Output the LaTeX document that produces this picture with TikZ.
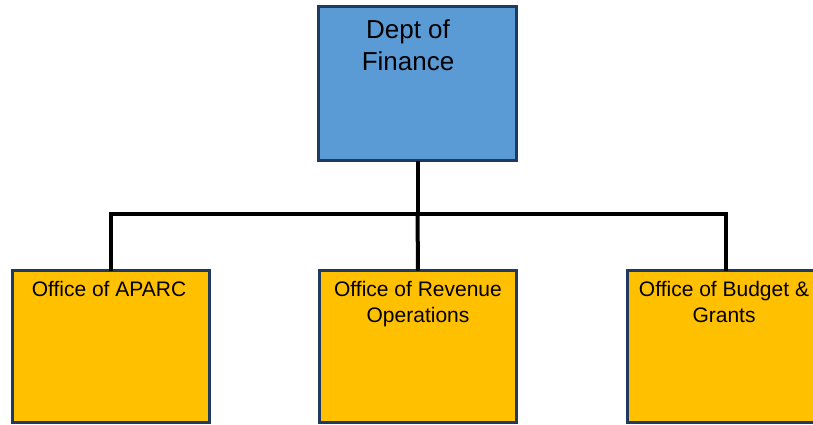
\documentclass[tikz,border=0pt]{standalone}
\usepackage{fontspec}
\setmainfont{Liberation Sans}
\usetikzlibrary{positioning}
\definecolor{deptblue}{HTML}{5B9BD5}
\definecolor{officegold}{HTML}{FFC000}
\definecolor{edgenavy}{HTML}{1F3A5C}

\begin{document}
\begin{tikzpicture}[
    x=1pt, y=-1pt,
    unit/.style={draw=edgenavy, line width=3pt, fill=#1, minimum width=198pt, minimum height=154pt, inner sep=0pt, outer sep=0pt},
    title/.style={anchor=north, align=center, inner sep=0pt, font=\fontsize{26}{32}\selectfont},
    subtitle/.style={anchor=north, align=center, inner sep=0pt, font=\fontsize{21}{26.5}\selectfont},
    link/.style={line width=4pt, black},
]
\useasboundingbox (0, 0) rectangle (813, 425);

% department
\node[unit=deptblue, label={[title, xshift=-9.5pt, yshift=-13pt]north:{Dept of\\Finance}}] (finance) at (417.5, 83.5) {};

% offices
\node[unit=officegold, minimum width=197pt, minimum height=152pt, label={[subtitle, xshift=-2pt, yshift=-10.5pt]north:{Office of APARC}}] (aparc) at (111, 346.5) {};
\node[unit=officegold, minimum width=197pt, minimum height=152pt, label={[subtitle, yshift=-10.5pt]north:{Office of Revenue\\Operations}}] (revenue) at (418, 346.5) {};
\node[unit=officegold, minimum width=197pt, minimum height=152pt, label={[subtitle, xshift=-1.5pt, yshift=-10.5pt]north:{Office of Budget \&\\Grants}}] (grants) at (725.5, 346.5) {};

% connectors
\coordinate (bus) at (417.5, 214);
\draw[link] (finance.south) -- (bus);
\draw[link] (aparc.north) |- (bus) -| (grants.north);
\draw[link] (bus) -- (revenue.north);

\end{tikzpicture}
\end{document}
